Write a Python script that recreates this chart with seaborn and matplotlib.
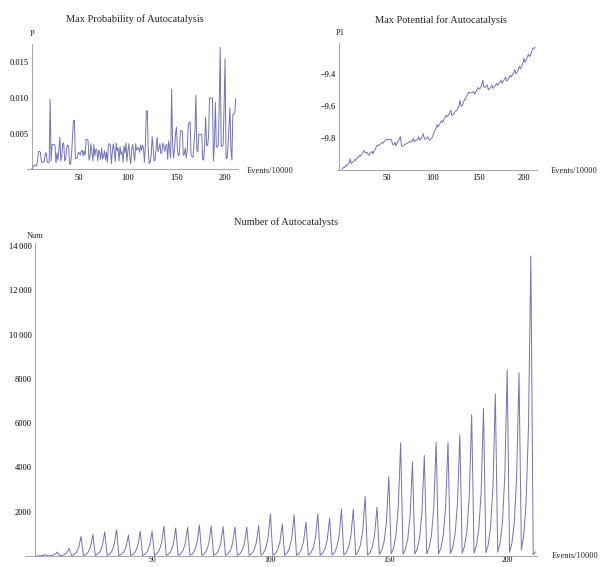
import numpy as np
import pandas as pd
import matplotlib
matplotlib.use("Agg")
import matplotlib.pyplot as plt
from matplotlib.ticker import FixedLocator, MultipleLocator, FuncFormatter
import seaborn as sns

# ---- data -------------------------------------------------------------
max_prob = [
    0.0001, 0.0002, 0.0005, 0.0006, 0.0005, 0.0005, 0.0012, 0.0025, 0.0025, 0.0024,
    0.0011, 0.0010, 0.0010, 0.0011, 0.0023, 0.0023, 0.0011, 0.0009, 0.0010, 0.0098,
    0.0012, 0.0035, 0.0035, 0.0035, 0.0034, 0.0009, 0.0023, 0.0013, 0.0028, 0.0045,
    0.0012, 0.0020, 0.0037, 0.0036, 0.0012, 0.0014, 0.0030, 0.0034, 0.0033, 0.0008,
    0.0007, 0.0020, 0.0045, 0.0069, 0.0068, 0.0015, 0.0016, 0.0016, 0.0024, 0.0023,
    0.0020, 0.0025, 0.0027, 0.0019, 0.0026, 0.0020, 0.0042, 0.0042, 0.0041, 0.0013,
    0.0019, 0.0036, 0.0024, 0.0012, 0.0035, 0.0019, 0.0028, 0.0028, 0.0012, 0.0027,
    0.0023, 0.0014, 0.0030, 0.0015, 0.0019, 0.0026, 0.0013, 0.0024, 0.0010, 0.0035,
    0.0036, 0.0034, 0.0008, 0.0024, 0.0036, 0.0025, 0.0011, 0.0037, 0.0026, 0.0030,
    0.0012, 0.0032, 0.0021, 0.0025, 0.0010, 0.0033, 0.0023, 0.0037, 0.0011, 0.0026,
    0.0036, 0.0017, 0.0008, 0.0029, 0.0035, 0.0022, 0.0012, 0.0036, 0.0027, 0.0030,
    0.0030, 0.0024, 0.0034, 0.0027, 0.0034, 0.0030, 0.0010, 0.0034, 0.0082, 0.0082,
    0.0025, 0.0008, 0.0010, 0.0020, 0.0046, 0.0030, 0.0012, 0.0013, 0.0030, 0.0045,
    0.0025, 0.0030, 0.0036, 0.0022, 0.0024, 0.0037, 0.0033, 0.0025, 0.0033, 0.0035,
    0.0014, 0.0040, 0.0030, 0.0016, 0.0112, 0.0035, 0.0016, 0.0030, 0.0050, 0.0059,
    0.0028, 0.0019, 0.0022, 0.0054, 0.0054, 0.0054, 0.0020, 0.0021, 0.0030, 0.0016,
    0.0025, 0.0060, 0.0066, 0.0066, 0.0020, 0.0018, 0.0017, 0.0035, 0.0055, 0.0104,
    0.0026, 0.0025, 0.0049, 0.0049, 0.0049, 0.0049, 0.0014, 0.0013, 0.0035, 0.0073,
    0.0034, 0.0033, 0.0045, 0.0100, 0.0100, 0.0100, 0.0100, 0.0012, 0.0035, 0.0094,
    0.0032, 0.0031, 0.0034, 0.0090, 0.0171, 0.0032, 0.0033, 0.0034, 0.0090, 0.0155,
    0.0016, 0.0015, 0.0032, 0.0060, 0.0086, 0.0030, 0.0013, 0.0077, 0.0077, 0.0080,
    0.0099,
]

max_potential = [
    -9.990, -9.985, -9.978, -9.980, -9.965, -9.970, -9.960, -9.955, -9.950, -9.925,
    -9.955, -9.950, -9.945, -9.940, -9.930, -9.935, -9.925, -9.920, -9.915, -9.905,
    -9.910, -9.900, -9.895, -9.885, -9.875, -9.885, -9.890, -9.885, -9.890, -9.905,
    -9.900, -9.890, -9.885, -9.880, -9.895, -9.880, -9.870, -9.860, -9.845, -9.840,
    -9.845, -9.840, -9.835, -9.830, -9.825, -9.830, -9.820, -9.815, -9.810, -9.805,
    -9.808, -9.805, -9.805, -9.808, -9.806, -9.830, -9.840, -9.835, -9.825, -9.845,
    -9.830, -9.820, -9.815, -9.800, -9.790, -9.845, -9.850, -9.845, -9.840, -9.835,
    -9.835, -9.830, -9.828, -9.825, -9.820, -9.822, -9.818, -9.815, -9.800, -9.820,
    -9.815, -9.812, -9.808, -9.805, -9.790, -9.810, -9.805, -9.795, -9.785, -9.770,
    -9.800, -9.805, -9.800, -9.795, -9.790, -9.805, -9.810, -9.805, -9.800, -9.790,
    -9.770, -9.760, -9.745, -9.735, -9.715, -9.730, -9.720, -9.710, -9.700, -9.690,
    -9.700, -9.690, -9.675, -9.670, -9.655, -9.665, -9.660, -9.650, -9.640, -9.625,
    -9.655, -9.655, -9.650, -9.640, -9.630, -9.630, -9.620, -9.610, -9.600, -9.565,
    -9.595, -9.600, -9.590, -9.575, -9.560, -9.560, -9.540, -9.530, -9.520, -9.515,
    -9.520, -9.518, -9.517, -9.515, -9.510, -9.525, -9.515, -9.505, -9.495, -9.485,
    -9.495, -9.490, -9.480, -9.465, -9.440, -9.480, -9.485, -9.480, -9.475, -9.470,
    -9.500, -9.495, -9.490, -9.480, -9.470, -9.490, -9.485, -9.478, -9.470, -9.460,
    -9.470, -9.465, -9.455, -9.450, -9.440, -9.460, -9.450, -9.440, -9.430, -9.420,
    -9.445, -9.440, -9.430, -9.420, -9.410, -9.420, -9.410, -9.400, -9.390, -9.375,
    -9.400, -9.395, -9.385, -9.370, -9.355, -9.370, -9.360, -9.345, -9.330, -9.305,
    -9.330, -9.320, -9.305, -9.290, -9.280, -9.295, -9.285, -9.270, -9.255, -9.240,
    -9.245, -9.235,
]

num_autocatalysts = [
    2, 5, 12, 27, 60,
    4, 13, 32, 77, 180,
    7, 24, 61, 146, 340,
    18, 62, 160, 383, 890,
    19, 68, 175, 417, 970,
    22, 76, 196, 469, 1090,
    24, 83, 214, 512, 1190,
    19, 66, 169, 404, 940,
    22, 78, 202, 482, 1120,
    23, 80, 199, 478, 1120,
    27, 95, 244, 583, 1355,
    25, 89, 228, 544, 1265,
    26, 91, 233, 557, 1295,
    28, 98, 252, 602, 1400,
    27, 95, 244, 583, 1355,
    27, 93, 239, 570, 1325,
    26, 92, 236, 563, 1310,
    26, 91, 238, 561, 1305,
    27, 96, 247, 589, 1370,
    38, 133, 343, 819, 1905,
    29, 101, 260, 621, 1445,
    37, 130, 335, 800, 1860,
    31, 107, 276, 660, 1535,
    38, 133, 343, 819, 1905,
    34, 120, 308, 735, 1710,
    42, 148, 381, 909, 2115,
    42, 148, 381, 909, 2110,
    54, 189, 485, 1159, 2695,
    44, 154, 397, 948, 2205,
    72, 251, 646, 1544, 3590,
    102, 357, 919, 2195, 5105,
    85, 297, 764, 1825, 4245,
    91, 318, 817, 1952, 4540,
    103, 359, 924, 2208, 5135,
    103, 359, 924, 2208, 5130,
    109, 383, 984, 2350, 5465,
    128, 446, 1148, 2741, 6375,
    133, 467, 1201, 2868, 6670,
    147, 513, 1319, 3150, 7325,
    168, 588, 1512, 3612, 8400,
    165, 579, 1488, 3554, 8265,
    271, 949, 2439, 5827, 13550,
    60, 190,
]

x_ticks = [50, 100, 150, 200]
p_ticks = [0.005, 0.010, 0.015]
p1_ticks = [-9.8, -9.6, -9.4]
num_ticks = [2000, 4000, 6000, 8000, 10000, 12000, 14000]

titles = ["Max Probability of Autocatalysis",
          "Max Potential for Autocatalysis",
          "Number of Autocatalysts"]
y_names = ["P", "P1", "Num"]
x_name = "Events/10000"

# ---- style ------------------------------------------------------------
sns.set_style("white")
plt.rcParams["font.family"] = ["Liberation Serif", "DejaVu Serif"]
plt.rcParams["axes.unicode_minus"] = True

W, H = 600, 567
LINE = (0.24, 0.24, 0.60)
AXC = "#9a9a9a"
TICK_FS = 6.0
LABEL_FS = 6.0
TITLE_FS = 7.5

fig = plt.figure(figsize=(W / 100, H / 100), dpi=100)


def make_axes(left, right, top, bottom):
    return fig.add_axes([left / W, 1 - bottom / H, (right - left) / W, (bottom - top) / H])


def style_axes(ax, spine_frac):
    for side in ("top", "right"):
        ax.spines[side].set_visible(False)
    ax.spines["left"].set_position(("axes", spine_frac))
    for side in ("left", "bottom"):
        ax.spines[side].set_color(AXC)
        ax.spines[side].set_linewidth(0.6)
    ax.tick_params(which="both", direction="in", colors=AXC, labelcolor="black",
                   labelsize=TICK_FS, width=0.5)
    ax.tick_params(which="major", length=3.0)
    ax.tick_params(which="minor", length=1.6)
    ax.tick_params(axis="y", pad=2.5)
    ax.tick_params(axis="x", pad=3.0)
    ax.xaxis.set_major_locator(FixedLocator(x_ticks))
    ax.xaxis.set_minor_locator(MultipleLocator(10))
    ax.set_xlabel("")
    ax.set_ylabel("")
    ax.grid(False)


def fig_text(px, py, s, **kw):
    fig.text(px / W, 1 - py / H, s, **kw)


def draw_series(ax, values):
    df = pd.DataFrame({"t": np.arange(1, len(values) + 1), "v": values})
    sns.lineplot(data=df, x="t", y="v", ax=ax, color=LINE, linewidth=0.7, alpha=0.72)


# ---- top left: probability ---------------------------------------------
ax1 = make_axes(27, 238, 44, 169.4)
draw_series(ax1, max_prob)
ax1.set_xlim(-3.8, 213.3)
ax1.set_ylim(0, 0.01756)
style_axes(ax1, 0.025)
ax1.yaxis.set_major_locator(FixedLocator(p_ticks))
ax1.yaxis.set_minor_locator(FixedLocator(np.arange(0.001, 0.0176, 0.001)))
ax1.yaxis.set_major_formatter(FuncFormatter(lambda v, _: f"{v:.3f}"))
fig_text(135, 19, titles[0], ha="center", va="center", fontsize=TITLE_FS)
fig_text(32, 33.5, y_names[0], ha="center", va="center", fontsize=LABEL_FS)
fig_text(246.5, 171, x_name, ha="left", va="center", fontsize=LABEL_FS)

# ---- top right: potential ----------------------------------------------
ax2 = make_axes(336.7, 537, 43, 170)
draw_series(ax2, max_potential)
ax2.set_xlim(-4.7, 214.2)
ax2.set_ylim(-9.995, -9.21)
style_axes(ax2, 0.0115)
ax2.yaxis.set_major_locator(FixedLocator(p1_ticks))
ax2.yaxis.set_minor_locator(FixedLocator(np.arange(-9.95, -9.2, 0.05)))
ax2.yaxis.set_major_formatter(FuncFormatter(lambda v, _: f"{v:.1f}".replace("-", "\u2212")))
fig_text(441, 20, titles[1], ha="center", va="center", fontsize=TITLE_FS)
fig_text(340, 33, y_names[1], ha="center", va="center", fontsize=LABEL_FS)
fig_text(551, 171, x_name, ha="left", va="center", fontsize=LABEL_FS)

# ---- bottom: number of autocatalysts -----------------------------------
ax3 = make_axes(25, 537, 243, 556)
draw_series(ax3, num_autocatalysts)
ax3.set_xlim(-3.68, 212.6)
ax3.set_ylim(0, 14134)
style_axes(ax3, 0.0195)
ax3.tick_params(axis="x", pad=0.3, labelsize=5.6)
ax3.yaxis.set_major_locator(FixedLocator(num_ticks))
ax3.yaxis.set_minor_locator(MultipleLocator(500))


def thousands(v, _):
    n = int(round(v))
    if n >= 10000:
        return f"{n // 1000}\u2009{n % 1000:03d}"
    return f"{n}"


ax3.yaxis.set_major_formatter(FuncFormatter(thousands))
fig_text(286, 222.5, titles[2], ha="center", va="center", fontsize=TITLE_FS)
fig_text(35, 236, y_names[2], ha="center", va="center", fontsize=LABEL_FS)
fig_text(552, 556.5, x_name, ha="left", va="center", fontsize=LABEL_FS)

fig.savefig("out.png", dpi=100)
